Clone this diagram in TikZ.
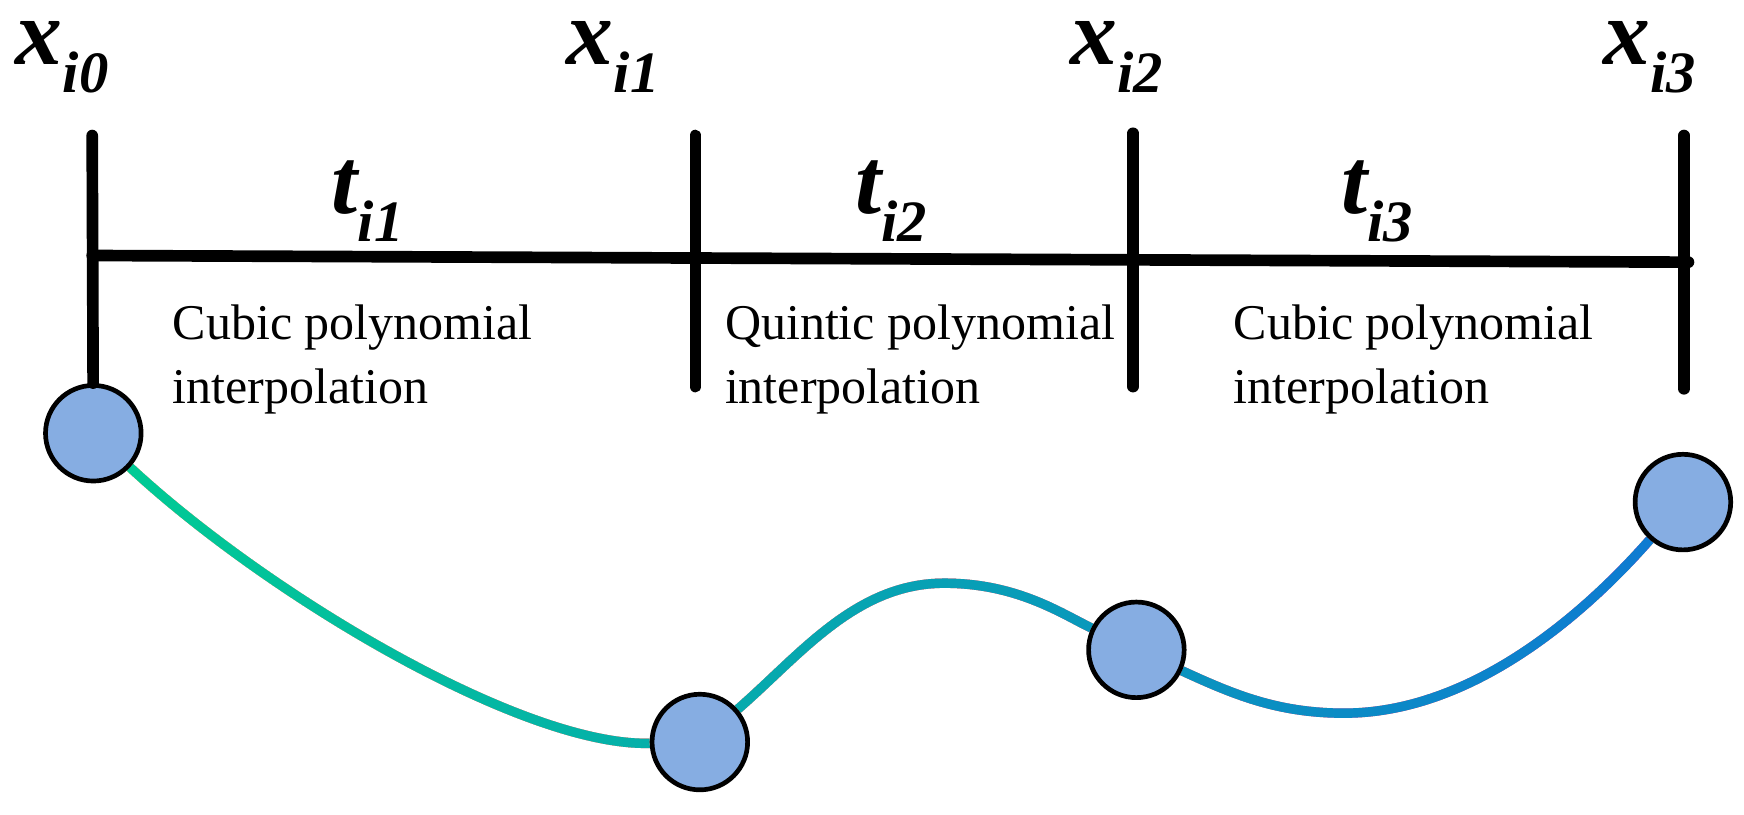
\documentclass[tikz,border=0pt]{standalone}
\usepackage{fontspec}
\setmainfont{Liberation Serif}
\usetikzlibrary{backgrounds,positioning}
\definecolor{knotblue}{RGB}{134,173,226}
\definecolor{splgreen}{RGB}{0,203,148}
\definecolor{splteal}{RGB}{0,183,192}
\definecolor{splblue}{RGB}{14,122,210}
\newcommand{\varlbl}[2]{{\fontsize{24}{24}\selectfont\bfseries\itshape #1\raisebox{-0.3em}{\fontsize{15}{15}\selectfont #2}}}
\tikzset{
knot/.style={
  circle,
  line width=1.2pt,
  inner sep=0pt,
  minimum size=0.86cm,
  draw=black,
  fill=knotblue,
  }
}
\tikzset{
bar/.style={
  line width=0.105cm,
  line cap=round,
  }
}
\tikzset{
spline/.style={
  line width=0.085cm,
  draw=black,
  }
}
\tikzset{
note/.style={
  anchor=north west,
  inner sep=0pt,
  align=left,
  font=\fontsize{12.8}{16.2}\selectfont,
  }
}

\begin{document}
\begin{tikzpicture}[x=0.01cm,y=-0.01cm]
    \useasboundingbox (0,0) rectangle (1570,733);

    % knots
    \node[knot] (k0) at (84,390) {};
    \node[knot] (k1) at (630,668) {};
    \node[knot] (k2) at (1023,585) {};
    \node[knot] (k3) at (1515,452) {};

    % knot labels
    \node[anchor=base] (lx0) at (56,58) {\varlbl{x}{i0}};
    \node[anchor=base] (lx1) at (552,58) {\varlbl{x}{i1}};
    \node[anchor=base] (lx2) at (1005,58) {\varlbl{x}{i2}};
    \node[anchor=base] (lx3) at (1485,58) {\varlbl{x}{i3}};

    % time axis
    \coordinate (top0) at (83,122);
    \coordinate (top1) at (626,122);
    \coordinate (top2) at (1020,120);
    \coordinate (top3) at (1516,122);
    \coordinate (bot1) at (626,348);
    \coordinate (bot2) at (1020,348);
    \coordinate (bot3) at (1516,350);
    \coordinate (h0) at (83,230);
    \coordinate (h3) at (1520,236);
    \draw[bar] (top0) -- (k0);
    \draw[bar] (top1) -- (bot1);
    \draw[bar] (top2) -- (bot2);
    \draw[bar] (top3) -- (bot3);
    \draw[bar] (h0) -- (h3);

    % interval labels
    \node[anchor=base] (lt1) at (331,192) {\varlbl{t}{i1}};
    \node[anchor=base] (lt2) at (802,192) {\varlbl{t}{i2}};
    \node[anchor=base] (lt3) at (1240,192) {\varlbl{t}{i3}};

    % interpolation notes
    \node[note] (n1) at (155,274) {Cubic polynomial\\interpolation};
    \node[note] (n2) at (652,274) {Quintic polynomial\\interpolation};
    \node[note] (n3) at (1110,274) {Cubic polynomial\\interpolation};

    % trajectory, coloured by a left-to-right shading
    \coordinate (crest) at (850,525);
    \coordinate (trough) at (1210,642);
    \begin{pgfonlayer}{background}
    \fill[white] (80,370) rectangle (1530,720);
    \draw[spline] (k0) .. controls (240,535) and (470,672) .. (k1);
    \draw[spline] (k1) .. controls (720,590) and (770,525) .. (crest)
        .. controls (915,525) and (955,552) .. (k2);
    \draw[spline] (k2) .. controls (1110,625) and (1150,642) .. (trough)
        .. controls (1320,642) and (1420,560) .. (k3);
    \shade[blend mode=lighten, left color=splgreen, middle color=splteal, right color=splblue]
        (100,380) rectangle (1505,705);
    \end{pgfonlayer}
\end{tikzpicture}
\end{document}
